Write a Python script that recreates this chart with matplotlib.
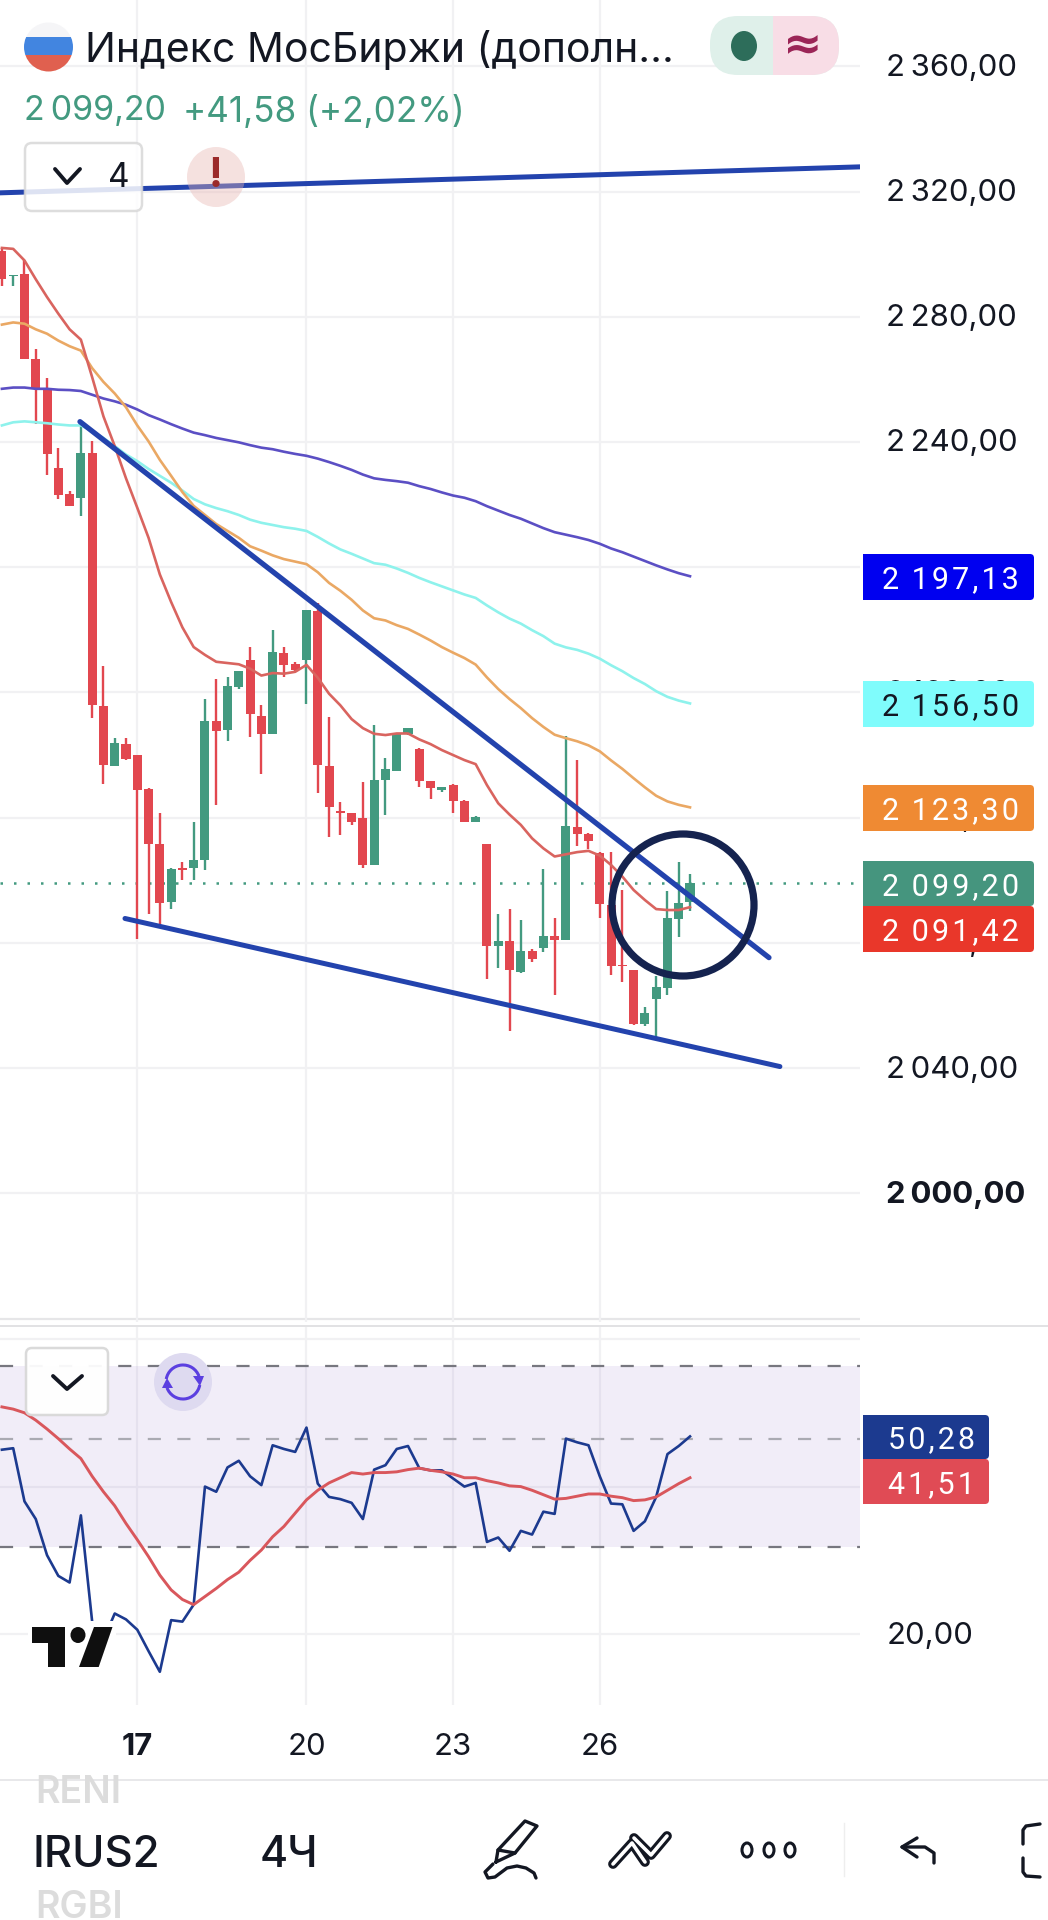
import numpy as np
import matplotlib
matplotlib.use("Agg")
import matplotlib.pyplot as plt
from matplotlib.patches import Circle, Ellipse, FancyBboxPatch, Polygon, Rectangle, Arc
from matplotlib.transforms import ScaledTranslation

plt.rcParams["font.family"] = ["Inter", "DejaVu Sans"]

# candles, 4h bars, bar 0 is the one under the "17" tick
first_bar = -12
opens = [2301, 2293, 2293.6, 2266.5, 2256.9, 2231.8, 2223.3, 2222, 2236.6, 2155.8, 2136.4, 2143.5,
         2140, 2129.2, 2111.5, 2093, 2104, 2104, 2106.5, 2150.8, 2148, 2161.8, 2170.3, 2152.5,
         2146.8, 2172.5, 2169, 2170.3, 2186, 2136.6, 2122, 2121.5, 2120, 2105, 2132, 2134.8,
         2146.7, 2141.9, 2131.7, 2129, 2130.5, 2125.4, 2118.7, 2111.6, 2079, 2080.7, 2070.8,
         2077.5, 2078.3, 2082.2, 2081, 2117.1, 2114.8, 2108.8, 2092.1, 2073, 2071.4, 2054,
         2062.1, 2065.5, 2087.5, 2093.2]
highs = [2302, 2293.2, 2298, 2269.7, 2260.4, 2238, 2224.5, 2246, 2240.4, 2168.4, 2145.4, 2145.4,
         2140, 2129.4, 2121.5, 2104, 2106, 2118.5, 2157.8, 2164.3, 2165, 2167, 2174.5, 2156,
         2179.8, 2174.5, 2169.8, 2186.2, 2188.6, 2152.2, 2125, 2121.5, 2131.4, 2149.6, 2139, 2147.2,
         2148.8, 2142.3, 2131.7, 2129.7, 2130.8, 2125.6, 2120.4, 2111.6, 2089.1, 2090.7, 2087.3,
         2078, 2103.5, 2087.9, 2146.1, 2138.4, 2115, 2109.1, 2109.1, 2096.9, 2071.4, 2059.4,
         2069.5, 2096.6, 2106, 2102]
lows = [2289.7, 2289.7, 2266.5, 2245.7, 2229.5, 2221.8, 2219.6, 2216.4, 2152, 2130.6, 2136.4, 2138.3,
        2081.2, 2089.3, 2085, 2090.8, 2100.2, 2100.2, 2103.2, 2124, 2144.5, 2161, 2145.7, 2134,
        2146.8, 2165, 2166.6, 2156.4, 2128, 2113.9, 2114.6, 2117.7, 2104, 2105, 2120.7, 2134.8,
        2146.3, 2129.9, 2125.9, 2128.2, 2121.4, 2118.7, 2118.7, 2068.4, 2072.1, 2051.7, 2070.3,
        2073.8, 2077, 2063.4, 2081, 2111, 2110, 2088.1, 2069.7, 2067.5, 2053.8, 2053.3,
        2049.6, 2063.4, 2082, 2090.2]
closes = [2292.2, 2293.2, 2266.5, 2256.9, 2236.2, 2223, 2219.6, 2236.6, 2156, 2136.9, 2143.8, 2138.6,
          2129, 2111.5, 2092.6, 2103.5, 2103.3, 2106.5, 2150.8, 2147.6, 2162, 2166.9, 2153, 2146.8,
          2172.8, 2168.8, 2167.2, 2186.2, 2136.9, 2123.3, 2121.4, 2118.6, 2105, 2132, 2135.4, 2146.9,
          2148.6, 2131.7, 2129.4, 2129.7, 2125.4, 2118.7, 2120.2, 2079, 2080.7, 2071.4, 2077.3,
          2075, 2082.2, 2081, 2117.3, 2114.7, 2112.7, 2092.4, 2072.7, 2072.5, 2054, 2057.5,
          2065.8, 2087.9, 2092.7, 2099.2]

ma_red = [2302, 2301.7, 2298, 2292, 2286.3, 2281, 2276, 2272.7, 2260.7, 2248.2, 2238.7, 2228.4,
          2219, 2209.4, 2197.7, 2188.9, 2180.8, 2174.5, 2172, 2169.8, 2169.4, 2169, 2167.6, 2165.4,
          2166.2, 2166, 2166.6, 2168.8, 2164.7, 2159.6, 2155.9, 2151.5, 2148.6, 2146.8, 2146.4, 2146.9,
          2146.9, 2145, 2143.5, 2141.6, 2140, 2138.4, 2137.1, 2130.4, 2124.6, 2121, 2117.7,
          2113.4, 2110.2, 2107.6, 2108.3, 2109, 2109.4, 2107.9, 2104.9, 2101.2, 2096.9, 2093.7,
          2090.8, 2090.5, 2090.5, 2091.42]
ma_orange = [2277.5, 2278.2, 2277.8, 2276, 2274.6, 2272.4, 2270.6, 2269.2, 2263.6, 2259.2, 2255.5, 2251.1,
             2245.3, 2240.2, 2234.3, 2229.2, 2224, 2219.6, 2216.7, 2213.8, 2211.6, 2209.4, 2206.7, 2205.3,
             2203.8, 2202.6, 2201.8, 2201, 2198.4, 2195, 2192.5, 2189.6, 2186.2, 2183.7, 2183, 2181.5,
             2180.3, 2178.5, 2176.6, 2174.5, 2172.7, 2171, 2168.9, 2164.8, 2161.1, 2157.9, 2155,
             2151.8, 2149, 2146.5, 2145.4, 2144.4, 2143.1, 2141.2, 2138.3, 2135.6, 2132.6, 2129.7,
             2127, 2125.2, 2124.1, 2123.3]
ma_cyan = [2245.3, 2246.3, 2246.6, 2246.3, 2246, 2245.6, 2245.3, 2245.3, 2243.5, 2241.3, 2238.7, 2236,
           2233.9, 2231.4, 2229.2, 2227, 2224.5, 2221.8, 2220.1, 2218.9, 2217.9, 2216.7, 2215.2, 2214.2,
           2213.5, 2212.8, 2212.3, 2211.6, 2209.7, 2207.6, 2205.7, 2204.3, 2202.8, 2201.3, 2200.8, 2199.6,
           2198.2, 2196.6, 2195.2, 2193.9, 2192.6, 2191.3, 2190.2, 2187.8, 2185.6, 2183.6, 2182,
           2179.9, 2178, 2175.6, 2174.4, 2173.6, 2172.4, 2170.8, 2168.7, 2166.8, 2164.6, 2162.7,
           2160.4, 2158.6, 2157.4, 2156.5]
ma_purple = [2257, 2257.4, 2257.4, 2257, 2257, 2256.7, 2256.6, 2256.3, 2255.1, 2253.9, 2253, 2251.9,
             2250.4, 2248.6, 2247.2, 2245.7, 2244.3, 2243, 2242.2, 2241.3, 2240.6, 2239.9, 2239, 2238.2,
             2237.7, 2236.9, 2236.2, 2235.6, 2234.7, 2233.6, 2232.4, 2231.1, 2229.6, 2228.4, 2227.9, 2227.5,
             2227, 2225.9, 2225, 2223.9, 2222.9, 2222.2, 2221.1, 2219.5, 2218.1, 2216.7, 2215.5,
             2214, 2212.5, 2211.2, 2210.4, 2209.6, 2208.7, 2207.5, 2206, 2204.8, 2203.4, 2202,
             2200.6, 2199.3, 2198.1, 2197.13]

rsi_blue = [45.0, 45.2, 38.0, 35.6, 30.7, 27.9, 27.0, 36.1, 21.7, 19.2, 22.8, 22.0,
            20.6, 17.7, 14.9, 21.9, 21.7, 24.0, 40.0, 39.3, 42.6, 43.5, 41.4, 40.2,
            45.6, 45.1, 44.7, 48.0, 40.4, 38.6, 38.3, 37.8, 35.6, 42.3, 42.9, 45.1,
            45.5, 42.5, 42.2, 42.2, 41.1, 40.0, 40.5, 32.5, 33.1, 31.3, 34.0,
            33.5, 36.6, 36.3, 46.5, 46.0, 45.6, 41.4, 37.7, 37.6, 34.0, 35.3,
            38.6, 44.4, 45.5, 46.8]
rsi_red = [50.8, 50.5, 50.0, 49.0, 47.8, 46.5, 45.1, 43.8, 41.4, 39.3, 37.4, 35.0,
           32.8, 30.5, 28.0, 26.0, 24.7, 24.0, 25.1, 26.2, 27.4, 28.4, 30.0, 31.4,
           33.2, 34.6, 36.4, 38.2, 39.5, 40.5, 41.2, 41.9, 41.7, 41.9, 41.9, 42.0,
           42.3, 42.5, 42.2, 42.0, 41.7, 41.2, 41.2, 40.8, 40.5, 40.1, 40.0,
           39.5, 38.9, 38.3, 38.4, 38.7, 39.0, 39.0, 38.7, 38.5, 38.1, 38.2,
           38.6, 39.5, 40.4, 41.2]
rsi_upper, rsi_mid, rsi_lower = 56.3, 46.5, 31.8

# hand drawn lines: (bar, price) at both ends
trend_top = ([-12.17, 64.07], [2319.6, 2327.9])
trend_down = ([-5.08, 56.0], [2246.5, 2075.3])
trend_low = ([-1.09, 56.97], [2087.8, 2040.5])

last_price = 2099.2
price_ticks = [2360, 2320, 2280, 2240, 2200, 2160, 2120, 2080, 2040, 2000]
price_tick_labels = ["2\u2009360,00", "2\u2009320,00", "2\u2009280,00", "2\u2009240,00", "2\u2009200,00",
                     "2\u2009160,00", "2\u2009120,00", "2\u2009080,00", "2\u2009040,00", "2\u2009000,00"]
unlabelled_grid = 1960
day_ticks = [0, 15, 28, 41]
day_labels = ["17", "20", "23", "26"]

GREEN = "#439a80"
RED = "#e2474f"
GRID = "#f1f1f3"
NAVY = "#15234f"
TREND = "#2343ad"
INK = "#131722"
BADGE_FONT = ["Roboto", "DejaVu Sans"]

bars = first_bar + np.arange(len(closes))
opens, highs, lows, closes = map(np.array, (opens, highs, lows, closes))
colors = np.where(closes >= opens, GREEN, RED)

fig = plt.figure(figsize=(10.48, 19.2), dpi=100, facecolor="white")
W, H = 1048, 1920
xlim = (-12.17, 64.07)
nudge_up = ScaledTranslation(0, 1.6 / 100, fig.dpi_scale_trans)

# main pane
ax = fig.add_axes([0, 1 - 1322 / H, 860 / W, 1322 / H])
ax.set_xlim(*xlim)
ax.set_ylim(1958.9, 2381.2)
for s in ax.spines.values():
    s.set_visible(False)
ax.grid(True, color=GRID, lw=1.6, zorder=0)
ax.set_axisbelow(True)
ax.set_xticks(day_ticks)
ax.tick_params(axis="x", length=0, labelbottom=False)
ax.yaxis.tick_right()
ax.set_yticks(price_ticks)
ax.set_yticklabels(price_tick_labels, fontsize=22.4, color=INK)
ax.tick_params(axis="y", length=0, pad=19)
ax.get_yticklabels()[-1].set_fontweight("bold")
for lab in ax.get_yticklabels():
    lab.set_transform(lab.get_transform() + nudge_up)

ax.axhline(unlabelled_grid, color="#e6e6e8", lw=1.6, zorder=0)
ax.axhline(last_price, color=GREEN, lw=1.8, ls=(0, (1, 4.4)), zorder=1)
ax.vlines(bars, lows, highs, colors=colors, lw=1.7, zorder=3)
ax.bar(bars, closes - opens, bottom=opens, width=0.8, color=colors, zorder=3)
ax.plot(bars, ma_purple, color="#5b4fc4", lw=1.9, zorder=4)
ax.plot(bars, ma_cyan, color="#8ef2ec", lw=1.9, zorder=4)
ax.plot(bars, ma_orange, color="#eaa864", lw=1.9, zorder=4)
ax.plot(bars, ma_red, color="#d9645f", lw=1.9, zorder=4)
ax.plot(*trend_top, color=TREND, lw=3.6, zorder=5, solid_capstyle="round")
ax.plot(*trend_down, color=TREND, lw=3.8, zorder=5, solid_capstyle="round")
ax.plot(*trend_low, color=TREND, lw=3.6, zorder=5, solid_capstyle="round")

# rsi pane
ax2 = fig.add_axes([0, 1 - 1705 / H, 860 / W, 380 / H])
ax2.set_xlim(*xlim)
ax2.set_ylim(10.4, 61.9)
for s in ax2.spines.values():
    s.set_visible(False)
ax2.grid(True, color=GRID, lw=1.6, zorder=0)
ax2.set_axisbelow(True)
ax2.set_xticks(day_ticks)
ax2.set_xticklabels(day_labels, fontsize=22.4, color=INK)
ax2.get_xticklabels()[0].set_fontweight("bold")
ax2.tick_params(axis="x", length=0, pad=20)
ax2.yaxis.tick_right()
ax2.set_yticks([60, 40, 20])
ax2.set_yticklabels(["", "", "20,00"], fontsize=22.4, color=INK)
ax2.tick_params(axis="y", length=0, pad=19)
for lab in ax2.get_yticklabels():
    lab.set_transform(lab.get_transform() + nudge_up)
ax2.axhspan(rsi_lower, rsi_upper, color="#7e57c2", alpha=0.1, lw=0, zorder=1)
dash = (0, (5.9, 7.4))
ax2.axhline(rsi_upper, color="#77777f", lw=1.6, ls=dash, zorder=2)
ax2.axhline(rsi_mid, color="#aaaab2", lw=1.6, ls=dash, zorder=2)
ax2.axhline(rsi_lower, color="#77777f", lw=1.6, ls=dash, zorder=2)
ax2.plot(bars, rsi_blue, color="#1c3a8f", lw=1.9, zorder=3)
ax2.plot(bars, rsi_red, color="#d9575c", lw=2.1, zorder=4)

# everything else sits on a pixel overlay
ov = fig.add_axes([0, 0, 1, 1], facecolor="none")
ov.set_xlim(0, W)
ov.set_ylim(H, 0)
ov.axis("off")


def box(x0, y0, x1, y1, fc, ec="none", lw=0, r=5, alpha=1.0):
    p = FancyBboxPatch((x0 + r, y0 + r), x1 - x0 - 2 * r, y1 - y0 - 2 * r, boxstyle=f"round,pad={r}",
                       fc=fc, ec=ec, lw=lw, alpha=alpha)
    ov.add_patch(p)
    return p


def stroke(xs, ys, color=INK, lw=2.2):
    ov.plot(xs, ys, color=color, lw=lw, solid_capstyle="round", solid_joinstyle="round")


def spaced(txt):
    # axis badges have wider letter spacing than the tick labels
    return "\u200a".join(txt)


# pane separator
ov.plot([0, W], [1326, 1326], color="#e2e2e4", lw=1.4)

# circle around the breakout
ov.add_patch(Circle((683, 905), 71, fc="none", ec=NAVY, lw=5.2))

# price labels
labels = [(554, 600, "#0000f0", "2\u2009197,13", "white"),
          (681, 727, "#7ffcfc", "2\u2009156,50", INK),
          (785, 831, "#ef8a33", "2\u2009123,30", "white"),
          (861, 906, "#45957e", "2\u2009099,20", "white"),
          (906, 952, "#e9372a", "2\u2009091,42", "white")]
for y0, y1, fc, txt, tc in labels:
    ov.add_patch(Rectangle((863, y0), 10, y1 - y0, fc=fc, lw=0))
    box(863, y0, 1034, y1, fc, r=4)
    ov.text(1019, (y0 + y1) / 2, spaced(txt), color=tc, fontsize=22, family=BADGE_FONT, ha="right", va="center_baseline")
for y0, y1, fc, txt in [(1415, 1459, "#1c3a8f", "50,28"), (1459, 1504, "#e04b55", "41,51")]:
    ov.add_patch(Rectangle((863, y0), 10, y1 - y0, fc=fc, lw=0))
    box(863, y0, 989, y1, fc, r=4)
    ov.text(975, (y0 + y1) / 2, spaced(txt), color="white", fontsize=22, family=BADGE_FONT, ha="right", va="center_baseline")

# header
flag = Circle((48.5, 47), 24.5, transform=ov.transData)
for y0, y1, c in [(22, 37, "#f5f5f7"), (37, 55, "#4285e0"), (55, 72, "#e0604f")]:
    band = Rectangle((20, y0), 60, y1 - y0, fc=c, lw=0)
    ov.add_patch(band)
    band.set_clip_path(flag)
ov.text(85, 46, "Индекс МосБиржи (дополн...", fontsize=29.5, color=INK, ha="left", va="center_baseline")
ov.text(24, 108, "2\u2009099,20", fontsize=24.5, color=GREEN, ha="left", va="center_baseline")
ov.text(183, 108, "+41,58 (+2,02%)", fontsize=25.3, color=GREEN, ha="left", va="center_baseline")

box(710, 16, 839, 75, "#dff0ea", r=28)
pill_right = Rectangle((773, 16), 66, 59, fc="#f8dde6", lw=0)
pill_clip = FancyBboxPatch((738, 44), 73, 3, boxstyle="round,pad=28", transform=ov.transData)
ov.add_patch(pill_right)
pill_right.set_clip_path(pill_clip)
ov.add_patch(Ellipse((744, 46), 26, 30, fc="#2d6d5a", lw=0))
ov.text(803, 46, "≈", fontsize=34, fontweight="bold", color="#9b2557", ha="center", va="center", family=["DejaVu Sans"])

box(25, 143, 142, 211, "white", ec="#d8d8d8", lw=1.8, r=7, alpha=0.85)
stroke([55, 67, 80], [169, 183, 169], lw=2.8)
ov.text(119, 178, "4", fontsize=24, color=INK, ha="center", va="center")
ov.add_patch(Ellipse((216, 177), 58, 60, fc="#e8b4b0", lw=0, alpha=0.4))
ov.text(216, 176, "!", fontsize=30, fontweight="bold", color="#9b2a2a", ha="center", va="center")

# rsi pane buttons
box(26, 1348, 108, 1415, "white", ec="#d8d8d8", lw=1.8, r=6, alpha=0.95)
stroke([53, 67, 82], [1376, 1389, 1376], lw=2.8)
ov.add_patch(Ellipse((183, 1382), 58, 58, fc="#dedaf0", lw=0))
SYNC = "#5b3fe0"
ov.add_patch(Arc((183, 1382), 34, 34, theta1=190, theta2=340, ec=SYNC, lw=2.2))
ov.add_patch(Arc((183, 1382), 34, 34, theta1=10, theta2=160, ec=SYNC, lw=2.2))
ov.add_patch(Polygon([[193, 1376], [204, 1376], [200, 1386]], fc=SYNC, lw=0))
ov.add_patch(Polygon([[162, 1388], [173, 1388], [167, 1378]], fc=SYNC, lw=0))

# logo
ov.add_patch(Rectangle((28, 1621), 88, 51, fc="white", lw=0))
ov.add_patch(Polygon([[32, 1627], [64.5, 1627], [64.5, 1667], [48, 1667], [48, 1643], [32, 1643]], fc="#0f0f0f", lw=0))
ov.add_patch(Ellipse((78, 1635), 15, 16, fc="#0f0f0f", lw=0))
ov.add_patch(Polygon([[79, 1667], [98.7, 1667], [112.5, 1627], [94, 1627]], fc="#0f0f0f", lw=0))

# bottom toolbar
ov.plot([0, W], [1780, 1780], color="#e8e8ea", lw=1.4)
ov.text(35, 1793, "RENI", fontsize=27, color="#dcdcdc", fontweight="semibold", ha="left", va="center")
ov.text(35, 1908, "RGBI", fontsize=27, color="#dcdcdc", fontweight="semibold", ha="left", va="center")
ov.text(33, 1851, "IRUS2", fontsize=31.5, color=INK, fontweight="medium", ha="left", va="center_baseline")
ov.text(260, 1851, "4Ч", fontsize=31, color=INK, fontweight="medium", ha="left", va="center_baseline")

# pencil
stroke([496, 498, 525, 537, 515, 496], [1862, 1850, 1821, 1826, 1853, 1862], lw=2.4)
stroke([498, 515], [1850, 1853], lw=2.4)
stroke([493, 485, 488, 495, 507, 517, 526, 534, 536], [1864, 1872, 1878, 1877, 1868, 1866, 1868, 1873, 1878], lw=2.4)
# trend icon
trend_icon = [([613, 632, 645], [1864, 1843, 1862]), ([634, 651, 667], [1838, 1855, 1836])]
for xs, ys in trend_icon:
    stroke(xs, ys, lw=7)
for xs, ys in trend_icon:
    stroke(xs, ys, color="white", lw=2.6)
# dots
for cx in [747, 769, 790]:
    ov.add_patch(Ellipse((cx, 1850), 10, 14, fc="white", ec=INK, lw=2.2))
ov.plot([843.5, 843.5], [1823, 1876], color="#eeeeee", lw=1)
# undo
stroke([934, 934, 925, 902], [1863, 1853, 1847, 1847], lw=2.4)
stroke([917, 902, 917], [1838, 1847, 1857], lw=2.4)
# cut off bracket
stroke([1040, 1026, 1023, 1023], [1824, 1826, 1830, 1844], lw=2.4)
stroke([1023, 1023, 1026, 1040], [1858, 1872, 1876, 1877], lw=2.4)

fig.savefig("out.png", dpi=100, facecolor="white")
